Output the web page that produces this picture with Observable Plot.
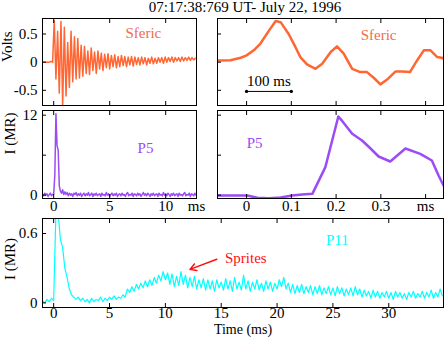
<!DOCTYPE html>
<html><head><meta charset="utf-8">
<script src="https://cdn.jsdelivr.net/npm/d3@7"></script>
<script src="https://cdn.jsdelivr.net/npm/@observablehq/plot@0.6"></script>
<style>
body{margin:0;background:#fff;}
#chart{position:relative;width:445px;height:341px;overflow:hidden;font-family:"Liberation Serif",serif;background:#fff;}
#chart > svg{position:absolute;}
#chart svg text{font-family:"Liberation Serif",serif;}
#title{position:absolute;left:245px;top:-1px;transform:translateX(-50%);white-space:nowrap;font-size:15px;line-height:17px;color:#000;}
</style></head><body><div id="chart"><div id="title"></div></div><script>
// ---------- data ----------
const title = "07:17:38:769 UT- July 22, 1996";

// Sferic, full record (ms), sampled every 0.15 ms starting at -1.0 ms
const sfericStart = -1.0, sfericStep = 0.15;
const sfericV = [0,0,0,0,0,0.01,0,
 0.74,-0.3,0.55,-0.55,0.72,-0.77,0.62,-0.6,0.35,-0.45,
 0.55,-0.35,0.45,-0.3,0.42,-0.28,0.3,-0.25,0.28,-0.2,
 0.2,-0.22,0.25,-0.15,0.18,-0.2,0.2,-0.12,0.16,-0.15,
 0.14,-0.1,0.15,-0.12,0.12,-0.08,0.13,-0.1,0.1,-0.08,
 0.12,-0.06,0.1,-0.08,0.09,-0.05,0.1,-0.07,0.09,-0.04,
 0.08,-0.05,0.09,-0.03,0.08,-0.05,0.07,-0.02,0.09,-0.03,
 0.07,-0.02,0.08,0,0.08,-0.02,0.09,0,0.08,0.01,
 0.09,0,0.08,0.02,0.08,0.01,0.09,0.02,0.08,0.03,
 0.09,0.03,0.08,0.04,0.07];

// P5, full record (ms), sampled every 0.1 ms starting at -1.0 ms
const p5Start = -1.0, p5Step = 0.1;
const p5V = [0.2,-0.1,0.3,0,0.2,-0.2,0.1,0.3,-0.1,0.1,
 0.2,3,12.2,7.4,6.8,1.4,0.6,0.3,0.8,0.1,0.5,
 0.1,0.4,-0.1,0.3,0,0.2,-0.2,0.3,0.1,0.4,
 -0.1,0.2,0,0.3,-0.2,0.1,0.3,-0.1,0.2,0,
 0.4,-0.1,0.1,0.3,-0.2,0.2,0,0.3,-0.1,0.1,
 0.2,-0.2,0.3,0,0.1,-0.1,0.4,0,0.2,-0.2,
 0.1,0.3,-0.1,0.2,0,0.3,-0.2,0.1,0.2,-0.1,
 0.3,0,0.1,-0.2,0.2,0.4,-0.1,0.1,0,0.3,
 -0.2,0.2,0.1,-0.1,0.3,0,0.2,-0.2,0.1,0.4,
 0,0.2,-0.1,0.3,0.1,-0.2,0.2,0,0.3,-0.1,
 0.1,0.2,-0.2,0.3,0,0.1,-0.1,0.4,0,0.2,
 -0.1,0.3,0.1,-0.2,0.2,0,0.3,-0.1,0.1,0.2,
 -0.2,0.3,0,0.1,-0.1,0.2,0.4,-0.1,0.1,0,
 0.3,-0.2,0.2,0.1,-0.1,0.3,0];

// P11 (ms), sampled every 0.2 ms starting at -1.0 ms
const p11Start = -1.0, p11Step = 0.2;
const p11V = [0.02,0,0.03,0.01,0.04,0.02,0.78,0.78,0.55,0.48,
 0.3,0.22,0.12,0.07,0.05,0.03,0.05,0.02,0.04,0.01,
 0.03,0,0.04,0.01,0.03,0.02,0.05,0.01,0.04,0.02,
 0.05,0.03,0.06,0.03,0.05,0.04,0.07,0.05,0.12,0.09,
 0.14,0.1,0.16,0.12,0.17,0.13,0.19,0.14,0.2,0.15,
 0.22,0.17,0.24,0.19,0.27,0.2,0.26,0.16,0.25,0.14,
 0.23,0.15,0.27,0.16,0.24,0.13,0.22,0.14,0.23,0.12,
 0.2,0.13,0.21,0.11,0.2,0.12,0.19,0.1,0.2,0.13,
 0.18,0.11,0.21,0.12,0.19,0.1,0.22,0.12,0.18,0.11,
 0.24,0.12,0.19,0.1,0.18,0.12,0.2,0.11,0.17,0.1,
 0.19,0.12,0.18,0.1,0.17,0.12,0.2,0.14,0.22,0.12,
 0.17,0.09,0.16,0.08,0.15,0.09,0.16,0.08,0.14,0.09,
 0.15,0.07,0.14,0.08,0.15,0.07,0.13,0.08,0.14,0.07,
 0.13,0.06,0.14,0.08,0.13,0.06,0.12,0.07,0.13,0.06,
 0.14,0.07,0.12,0.05,0.11,0.06,0.1,0.04,0.11,0.05,
 0.1,0.04,0.09,0.05,0.1,0.04,0.09,0.03,0.1,0.05,
 0.09,0.04,0.08,0.03,0.09,0.05,0.1,0.04,0.08,0.05,
 0.1,0.04,0.09,0.05,0.11,0.04,0.09,0.05,0.12,0.06];

// Expanded views (time in tick units, tick = 0.1)
const sfericZoomT = [-0.065,-0.036,-0.013,0.0,0.016,0.031,0.05,0.065,0.076,0.094,0.109,0.12,0.135,0.154,0.169,0.188,0.202,0.217,0.236,0.254,0.269,0.284,0.299,0.314,0.333,0.348,0.365,0.381,0.396,0.411,0.426,0.44];
const sfericZoomV = [0.03,0.035,0.078,0.12,0.21,0.33,0.56,0.73,0.71,0.5,0.27,0.09,-0.04,-0.118,-0.03,0.18,0.28,0.15,-0.12,-0.177,-0.177,-0.277,-0.395,-0.31,-0.165,-0.165,-0.177,0.03,0.21,0.21,0.09,0.07];
const p5ZoomT = [-0.065,0.0015,0.024,0.05,0.076,0.102,0.124,0.147,0.176,0.205,0.214,0.236,0.258,0.277,0.295,0.321,0.355,0.388,0.414,0.429,0.44];
const p5ZoomV = [-0.05,-0.05,-0.4,-0.45,-0.35,-0.05,0.1,0.2,4.2,11.8,11.1,9.2,8.2,7.0,5.8,5.05,7.0,6.2,5.2,2.95,1.45];

// ticks
const msTicksShort = [0, 5, 10];
const msTicksLong = [0, 5, 10, 15, 20, 25, 30];
const zoomTicks = [0, 0.1, 0.2, 0.3, 0.4];
const voltTicks = [-0.5, 0, 0.5];
const p5Ticks = [0, 6, 12];
const p11Ticks = [0, 0.6];

// annotations (data units)
const scaleBar = [{x1: 0, x2: 0.1, y: -0.52}];
const scaleBarLabel = [{x: 0.05, y: -0.34, text: "100 ms"}];
const sfericLabelLeft = [{x: 8.0, y: 0.51, text: "Sferic"}];
const sfericLabelRight = [{x: 0.295, y: 0.47, text: "Sferic"}];
const p5LabelLeft = [{x: 8.2, y: 7.0, text: "P5"}];
const p5LabelRight = [{x: 0.018, y: 7.75, text: "P5"}];
const p11Label = [{x: 25.4, y: 0.54, text: "P11"}];
const spritesLabel = [{x: 17.2, y: 0.384, text: "Sprites"}];
const spritesArrow = [{x1: 14.6, y1: 0.378, x2: 12.2, y2: 0.29}];

// ---------- build ----------
const sferic = sfericV.map((v, i) => ({t: sfericStart + i * sfericStep, v}));
const p5 = p5V.map((v, i) => ({t: p5Start + i * p5Step, v}));
const p11 = p11V.map((v, i) => ({t: p11Start + i * p11Step, v}));
const sfericZoom = sfericZoomT.map((t, i) => ({t, v: sfericZoomV[i]}));
const p5Zoom = p5ZoomT.map((t, i) => ({t, v: p5ZoomV[i]}));

const cSferic = "#ff6633", cSfericText = "#f26a4b", cP5 = "#9b4cf4", cP11 = "#00ffff", cRed = "#ff1010";
const font = '"Liberation Serif", serif';
const style = {fontFamily: font, fontSize: "15px", background: "transparent", overflow: "visible", color: "black"};
const blank = () => "";
const tk = {tickSize: -4, label: null, fontFamily: font, fontSize: 15};
const tx = {fontFamily: font, fontSize: 15};

function place(svg, left, top) {
  svg.style.left = left + "px";
  svg.style.top = top + "px";
  document.getElementById("chart").appendChild(svg);
}
document.getElementById("title").textContent = title;

// A: top-left sferic
place(Plot.plot({
  width: 200, height: 112, marginLeft: 42, marginRight: 4, marginTop: 18, marginBottom: 7, style,
  x: {domain: [-1.0, 12.75]}, y: {domain: [-0.77, 0.775]},
  marks: [
    Plot.line(sferic, {x: "t", y: "v", stroke: cSferic, strokeWidth: 1.5, clip: true}),
    Plot.frame({stroke: "black"}),
    Plot.axisX(msTicksShort, {...tk, anchor: "bottom", tickFormat: blank}),
    Plot.axisX(msTicksShort, {...tk, anchor: "top", tickFormat: blank}),
    Plot.axisY(voltTicks, {...tk, anchor: "left", tickPadding: 9, tickFormat: d => String(d)}),
    Plot.text(["Volts"], {...tx, frameAnchor: "left", rotate: -90, dx: -35}),
    Plot.text(sfericLabelLeft, {...tx, x: "x", y: "y", text: "text", fill: cSfericText})
  ]
}), 0, 0);

// B: top-right sferic expanded
place(Plot.plot({
  width: 245, height: 112, marginLeft: 17, marginRight: 2, marginTop: 18, marginBottom: 7, style,
  x: {domain: [-0.065, 0.44]}, y: {domain: [-0.77, 0.775]},
  marks: [
    Plot.line(sfericZoom, {x: "t", y: "v", stroke: cSferic, strokeWidth: 2.5, clip: true}),
    Plot.frame({stroke: "black"}),
    Plot.axisX(zoomTicks, {...tk, anchor: "bottom", tickFormat: blank}),
    Plot.axisX(zoomTicks, {...tk, anchor: "top", tickFormat: blank}),
    Plot.axisY(voltTicks, {...tk, anchor: "left", tickFormat: blank}),
    Plot.link(scaleBar, {x1: "x1", x2: "x2", y1: "y", y2: "y", stroke: "black", strokeWidth: 1, markerStart: "dot", markerEnd: "dot"}),
    Plot.text(scaleBarLabel, {...tx, x: "x", y: "y", text: "text", fill: "black"}),
    Plot.text(sfericLabelRight, {...tx, x: "x", y: "y", text: "text", fill: cSfericText})
  ]
}), 200, 0);

// C: middle-left P5
place(Plot.plot({
  width: 200, height: 112, marginLeft: 42, marginRight: 4, marginTop: 5, marginBottom: 19, style,
  x: {domain: [-1.0, 12.75]}, y: {domain: [-0.5, 12.7]},
  marks: [
    Plot.line(p5, {x: "t", y: "v", stroke: cP5, strokeWidth: 1.5, clip: true}),
    Plot.frame({stroke: "black"}),
    Plot.axisX(msTicksShort, {...tk, anchor: "bottom", tickPadding: 6, tickFormat: d => String(d)}),
    Plot.axisX(msTicksShort, {...tk, anchor: "top", tickFormat: blank}),
    Plot.text(["ms"], {...tx, frameAnchor: "bottom-right", dy: 2, lineAnchor: "top", textAnchor: "middle"}),
    Plot.axisY(p5Ticks, {...tk, anchor: "left", tickPadding: 9, tickFormat: d => d === 6 ? "" : String(d)}),
    Plot.text(["I (MR)"], {...tx, frameAnchor: "left", rotate: -90, dx: -32}),
    Plot.text(p5LabelLeft, {...tx, x: "x", y: "y", text: "text", fill: cP5})
  ]
}), 0, 105);

// D: middle-right P5 expanded
place(Plot.plot({
  width: 245, height: 112, marginLeft: 17, marginRight: 2, marginTop: 5, marginBottom: 19, style,
  x: {domain: [-0.065, 0.44]}, y: {domain: [-0.5, 12.7]},
  marks: [
    Plot.line(p5Zoom, {x: "t", y: "v", stroke: cP5, strokeWidth: 2.5, clip: true}),
    Plot.frame({stroke: "black"}),
    Plot.axisX(zoomTicks, {...tk, anchor: "bottom", tickPadding: 6, tickFormat: d => d === 0.4 ? "ms" : String(d)}),
    Plot.axisX(zoomTicks, {...tk, anchor: "top", tickFormat: blank}),
    Plot.axisY(p5Ticks, {...tk, anchor: "left", tickFormat: blank}),
    Plot.text(p5LabelRight, {...tx, x: "x", y: "y", text: "text", fill: cP5})
  ]
}), 200, 105);

// E: bottom P11
place(Plot.plot({
  width: 445, height: 129, marginLeft: 42, marginRight: 2, marginTop: 6, marginBottom: 34, style,
  x: {domain: [-1.0, 34.9]}, y: {domain: [-0.04, 0.73]},
  marks: [
    Plot.line(p11, {x: "t", y: "v", stroke: cP11, strokeWidth: 1.2, clip: true}),
    Plot.frame({stroke: "black"}),
    Plot.axisX(msTicksLong, {...tk, anchor: "bottom", tickPadding: 4, tickFormat: d => String(d)}),
    Plot.axisX(msTicksLong, {...tk, anchor: "top", tickFormat: blank}),
    Plot.axisY(p11Ticks, {...tk, anchor: "left", tickPadding: 9, tickFormat: d => String(d)}),
    Plot.text(["I (MR)"], {...tx, frameAnchor: "left", rotate: -90, dx: -32, dy: 17}),
    Plot.text(["Time (ms)"], {...tx, fontSize: 14, frameAnchor: "bottom", dy: 26}),
    Plot.text(p11Label, {...tx, x: "x", y: "y", text: "text", fill: cP11}),
    Plot.text(spritesLabel, {...tx, x: "x", y: "y", text: "text", fill: cRed}),
    Plot.arrow(spritesArrow, {x1: "x1", y1: "y1", x2: "x2", y2: "y2", stroke: cRed, strokeWidth: 1.5, headLength: 7})
  ]
}), 0, 212);
</script></body></html>
